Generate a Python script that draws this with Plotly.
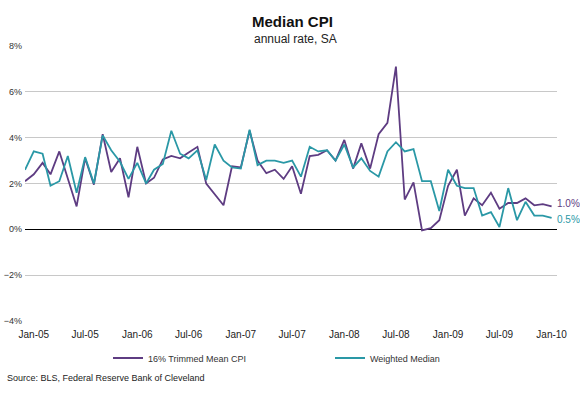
import plotly.graph_objects as go
import pandas as pd

months = pd.date_range("2004-12-01", "2010-01-01", freq="MS")

trimmed_mean = [2.1, 2.4, 2.9, 2.4, 3.4, 2.2, 1.0, 3.1, 1.95, 4.15,
                2.5, 3.1, 1.4, 3.6, 2.0, 2.25, 3.05, 3.2, 3.1, 3.35,
                3.6, 2.0, 1.55, 1.05, 2.75, 2.7, 4.3, 3.0, 2.45, 2.6,
                2.2, 2.75, 1.55, 3.2, 3.25, 3.45, 3.0, 3.9, 2.65, 3.75,
                2.65, 4.15, 4.65, 7.1, 1.3, 2.05, -0.05, 0.05, 0.4, 1.9,
                2.6, 0.6, 1.35, 1.05, 1.6, 0.9, 1.15, 1.15, 1.35, 1.05,
                1.1, 1.0]

weighted_median = [2.6, 3.4, 3.3, 1.9, 2.1, 3.2, 1.6, 3.15, 2.0, 4.1,
                   3.45, 2.95, 2.2, 2.9, 2.0, 2.6, 2.85, 4.3, 3.3, 3.1,
                   3.45, 2.15, 3.7, 3.0, 2.7, 2.65, 4.35, 2.8, 3.0, 3.0,
                   2.9, 3.0, 2.3, 3.6, 3.4, 3.45, 3.0, 3.7, 2.7, 3.1,
                   2.55, 2.3, 3.4, 3.8, 3.4, 3.5, 2.1, 2.1, 0.8, 2.6,
                   1.9, 1.8, 1.8, 0.6, 0.75, 0.1, 1.8, 0.4, 1.2, 0.6,
                   0.6, 0.5]

series_names = ["16% Trimmed Mean CPI", "Weighted Median"]
colors = ["#5e3c82", "#2a98a6"]
FONT = "Liberation Sans"

W, H = 580, 395
L, R, T, B = 25, 23, 46, 74
PW, PH = W - L - R, H - T - B


def px(x):
    return (x - L) / PW


def py(y):
    return (H - B - y) / PH


fig = go.Figure()
for name, vals, c in zip(series_names, [trimmed_mean, weighted_median], colors):
    fig.add_trace(go.Scatter(x=months, y=vals, mode="lines", name=name,
                             line=dict(color=c, width=1.8)))

# end labels
for vals, c, ys in zip([trimmed_mean, weighted_median], colors, [3, -2]):
    fig.add_annotation(x=months[-1], y=vals[-1], xref="x", yref="y",
                       text=f"{vals[-1]:.1f}%", showarrow=False,
                       xanchor="left", xshift=3, yshift=ys,
                       font=dict(family=FONT, size=10, color=c))

fig.add_annotation(text="<b>Median CPI</b>", x=px(292), y=py(11), xref="paper", yref="paper",
                   showarrow=False, font=dict(family=FONT, size=15, color="#111"))
fig.add_annotation(text="annual rate, SA", x=px(295), y=py(30), xref="paper", yref="paper",
                   showarrow=False, font=dict(family=FONT, size=12, color="#222"))
fig.add_annotation(text="Source: BLS, Federal Reserve Bank of Cleveland", x=px(5), y=py(385),
                   xref="paper", yref="paper", xanchor="left", showarrow=False,
                   font=dict(family=FONT, size=9, color="#222"))

fig.update_layout(
    width=W, height=H,
    margin=dict(l=L, r=R, t=T, b=B, autoexpand=False),
    paper_bgcolor="white", plot_bgcolor="white",
    showlegend=True,
    legend=dict(orientation="h", x=px(108), xanchor="left", y=py(358), yanchor="middle",
                entrywidth=177, font=dict(family=FONT, size=9, color="#333"),
                itemwidth=30, bgcolor="rgba(0,0,0,0)"),
    xaxis=dict(type="date", range=["2004-12-01", "2010-01-20"],
               tickformat="%b-%y", dtick="M6", tick0="2005-01-01",
               showgrid=False, showline=False, zeroline=False, ticks="",
               automargin=False,
               tickfont=dict(family=FONT, size=10, color="#222"), ticklabelstandoff=6),
    yaxis=dict(range=[-4, 8], dtick=2, ticksuffix="%", showgrid=True,
               gridcolor="#c8c8c8", gridwidth=1, zeroline=True,
               zerolinecolor="#000", zerolinewidth=1.2, showline=False,
               automargin=False, ticklabelstandoff=2,
               tickfont=dict(family=FONT, size=9, color="#333"), ticks=""),
)

fig.write_html("out.html", config={"displayModeBar": False},
               post_script="document.body.style.margin='0';document.body.style.overflow='hidden';")
